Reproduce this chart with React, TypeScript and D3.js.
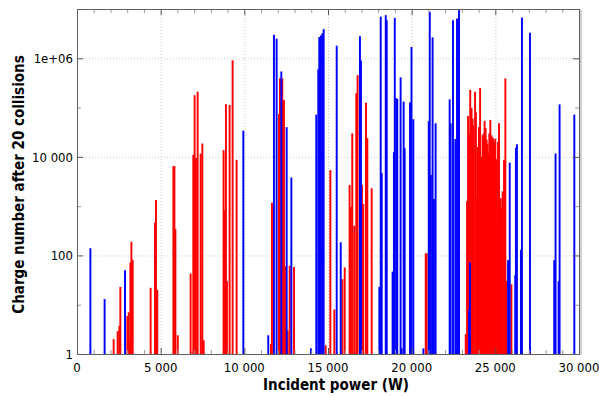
import React from 'react'
import * as d3 from 'd3'

// Incident power (W) and charge number for the two series
const bluePower = [800, 1650, 2870, 9940, 11430, 11770, 11930, 12210, 12530, 12810, 13980, 14300, 14420, 14480, 14580, 14660, 14740, 15520, 15760, 16910, 16970, 18070, 18150, 18210, 18450, 18510, 18860, 18940, 18990, 19080, 19140, 19340, 19400, 19520, 19580, 19900, 19990, 20100, 20700, 21020, 21080, 21150, 21250, 21330, 21430, 22270, 22330, 22470, 22610, 22710, 22770, 22830, 23430, 23480, 25760, 25860, 26190, 26230, 26290, 26530, 26590, 27070, 28520, 28600, 28780, 28840, 29720]
const blueCharge = [140, 13, 50, 34000, 2.4, 3.0e6, 2.5e6, 540000, 40000, 3800, 1.3, 72000, 600000, 2.7e6, 2.9e6, 3.2e6, 3.9e6, 1.8e6, 185, 2.8e6, 900000, 23, 7e6, 4700, 7.5e6, 5.9e6, 47, 12500, 6.6e6, 155000, 150000, 410000, 1.3, 132000, 15000, 127000, 1.7e6, 58000, 1.3, 53000, 8.8e6, 4300, 2.65e6, 1400, 48000, 147000, 48000, 5.9e6, 23000, 6.4e6, 120000, 9.5e6, 8, 72, 80, 7600, 40, 15300, 18000, 130, 6.7e6, 3.3e6, 80, 11700, 30, 116000, 72000]

const redPower = [2190, 2430, 2530, 2590, 3010, 3090, 3130, 3190, 3250, 3330, 4400, 4660, 4720, 4800, 5760, 5820, 5880, 6020, 6790, 6950, 7030, 7110, 7210, 7390, 7490, 7570, 8760, 8820, 8900, 8960, 9120, 9300, 9540, 11590, 11650, 12070, 12130, 12270, 12370, 12450, 12590, 12710, 12970, 14860, 15140, 15380, 15860, 16000, 16290, 16370, 16450, 16570, 16690, 16770, 17030, 17110, 17270, 17350, 17610, 20840, 20900,
  23230, 23310, 23370, 23430, 23500, 23580, 23640, 23690, 23790, 23840, 23890, 23960, 24020, 24090, 24160, 24240, 24300, 24360, 24420, 24480, 24530, 24580, 24640, 24700, 24760, 24820, 24880, 24940, 25000, 25060, 25100, 25160, 25220, 25280, 25320, 25380, 25440, 25520, 25600, 25660, 25960]
const redCharge = [2, 2.9, 3.7, 23, 5.9, 7, 2, 71, 190, 81, 22, 460, 1330, 20, 6500, 6500, 345, 2.4, 43, 11000, 178000, 9500, 210000, 11700, 18700, 1.9, 13700, 830, 117000, 30, 113000, 910000, 8700, 1.6, 1170, 74000, 390000, 390000, 142000, 60, 3, 62, 58, 1.5, 5400, 8, 33, 57, 2700, 970, 30000, 400, 195000, 455000, 2700, 1100, 125000, 24000, 2300, 110, 110,
  2.5, 1260, 67600, 30000, 229000, 98000, 60000, 43600, 209000, 80000, 1500, 15800, 40000, 251000, 10000, 27500, 30000, 53700, 38000, 22400, 18000, 12000, 30000, 56000, 27500, 25000, 23400, 20000, 23400, 9000, 550, 20000, 48000, 1400, 1450, 900, 2000, 8700, 390000, 30, 26]

const xTickValues = [0, 5000, 10000, 15000, 20000, 25000, 30000]
const xTickLabels = ['0', '5 000', '10 000', '15 000', '20 000', '25 000', '30 000']
const yTickValues = [1, 100, 1e4, 1e6]
const yTickLabels = ['1', '100', '10 000', '1e+06']
const yMinorValues = [10, 1000, 1e5, 1e7]

const W = 599
const H = 396
const margin = { top: 9, right: 20, bottom: 42, left: 77 }
const left = margin.left
const right = W - margin.right
const top = margin.top
const bottom = H - margin.bottom

const font = '"DejaVu Sans Condensed", "DejaVu Sans", sans-serif'

export default function App() {
    const x = d3.scaleLinear().domain([0, 30000]).range([left, right])
    const y = d3.scaleLog().domain([1, 1e7]).range([bottom, top])
    const barW = x(115) - x(0)

    const blue = bluePower.map((p, i) => ({ p, v: blueCharge[i] }))
    const red = redPower.map((p, i) => ({ p, v: redCharge[i] }))
    const xMinor = d3.range(0, 30001, 1000).filter(v => v % 5000 !== 0)

    const bar = (d: { p: number; v: number }, i: number, fill: string) => (
        <rect key={i} x={x(d.p) - barW / 2} y={y(d.v)} width={barW}
            height={bottom - y(d.v)} fill={fill} />
    )

    return (
        <div style={{ position: 'fixed', left: 0, top: 0 }}>
            <svg width={W} height={H} style={{ display: 'block', background: '#fff' }}>
                {/* grid */}
                <g stroke="#c8c8c8" strokeWidth={1} strokeDasharray="1,2">
                    {xTickValues.slice(1, -1).map(v => (
                        <line key={v} x1={x(v) + 0.5} x2={x(v) + 0.5} y1={top} y2={bottom} />
                    ))}
                    {yTickValues.slice(1).map(v => (
                        <line key={v} x1={left} x2={right} y1={y(v) + 0.5} y2={y(v) + 0.5} />
                    ))}
                </g>

                {/* bars */}
                <g>{red.map((d, i) => bar(d, i, '#ff0000'))}</g>
                <g>{blue.map((d, i) => bar(d, i, '#0000ff'))}</g>

                {/* ticks */}
                <g stroke="#999" strokeWidth={1}>
                    {xMinor.map(v => (
                        <g key={v}>
                            <line x1={x(v) + 0.5} x2={x(v) + 0.5} y1={top} y2={top + 4} />
                            <line x1={x(v) + 0.5} x2={x(v) + 0.5} y1={bottom} y2={bottom - 4} />
                        </g>
                    ))}
                    {yMinorValues.map(v => (
                        <g key={v}>
                            <line x1={left} x2={left + 4} y1={y(v) + 0.5} y2={y(v) + 0.5} />
                            <line x1={right} x2={right - 4} y1={y(v) + 0.5} y2={y(v) + 0.5} />
                        </g>
                    ))}
                </g>
                <g stroke="#555" strokeWidth={1}>
                    {xTickValues.map(v => (
                        <g key={v}>
                            <line x1={x(v) + 0.5} x2={x(v) + 0.5} y1={top} y2={top + 6} />
                            <line x1={x(v) + 0.5} x2={x(v) + 0.5} y1={bottom} y2={bottom - 6} />
                        </g>
                    ))}
                    {yTickValues.map(v => (
                        <g key={v}>
                            <line x1={left} x2={left + 6} y1={y(v) + 0.5} y2={y(v) + 0.5} />
                            <line x1={right} x2={right - 6} y1={y(v) + 0.5} y2={y(v) + 0.5} />
                        </g>
                    ))}
                </g>

                {/* frame */}
                <rect x={left + 0.5} y={top + 0.5} width={right - left} height={bottom - top}
                    fill="none" stroke="#606060" strokeWidth={1} />
                <line x1={right + 2} x2={right + 2} y1={top + 1} y2={bottom + 1} stroke="#d0d0d0" strokeWidth={2} />

                {/* tick labels */}
                <g fontFamily={font} fontSize={13} fill="#000">
                    {xTickValues.map((v, i) => (
                        <text key={v} x={x(v)} y={372} textAnchor="middle">{xTickLabels[i]}</text>
                    ))}
                    {yTickValues.map((v, i) => (
                        <text key={v} x={73} y={y(v)} dy="0.36em" textAnchor="end">{yTickLabels[i]}</text>
                    ))}
                </g>

                {/* axis titles */}
                <text x={336} y={390} textAnchor="middle" fontFamily={font} fontSize={15}
                    fontWeight="bold">Incident power (W)</text>
                <text transform={`translate(23.5,${(top + bottom) / 2 + 3}) rotate(-90)`} textAnchor="middle"
                    fontFamily={font} fontSize={15} fontWeight="bold">Charge number after 20 collisions</text>
            </svg>
        </div>
    )
}
